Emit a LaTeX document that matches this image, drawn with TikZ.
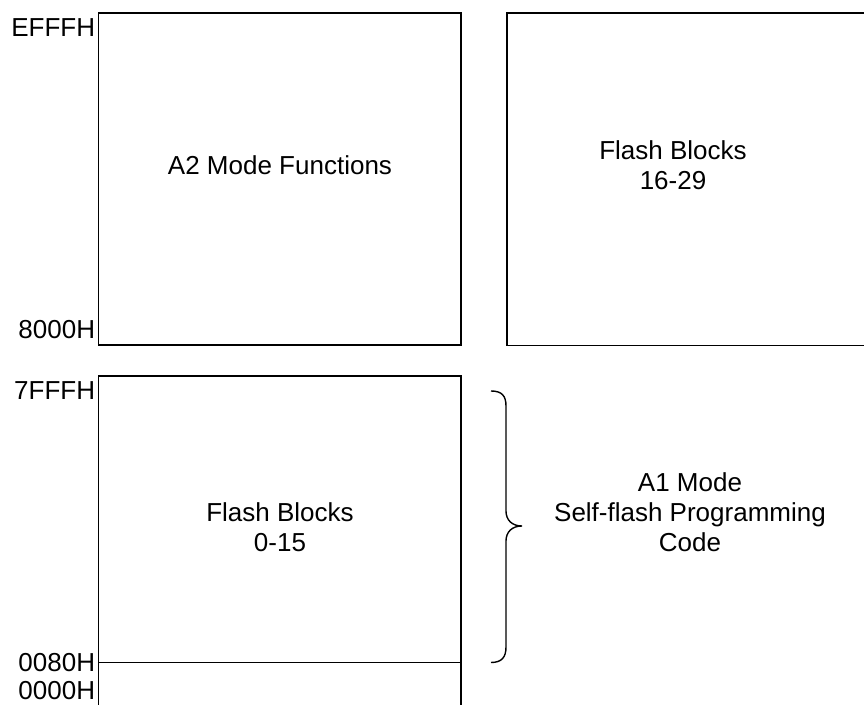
\documentclass[tikz,border=0pt]{standalone}
\usepackage{fontspec}
\setmainfont{Liberation Sans}
\begin{document}
\begin{tikzpicture}[x=0.5pt,y=-0.5pt,
  box/.style={draw=black,line width=0.7pt},
  lbl/.style={font=\fontsize{13}{15}\selectfont, inner sep=0pt, align=center},
  addr/.style={lbl, anchor=east}]
\useasboundingbox (0,0) rectangle (864,705);
\clip (0,0) rectangle (864,705);
% memory regions
\draw[box] (98.5,13) rectangle (461,345);
\draw[box] (507,13) rectangle (880,345.5);
\draw[box] (98.5,720) -- (98.5,376) -- (461,376) -- (461,720);
\draw[box] (98.5,662.5) -- (461,662.5);
% address labels
\node[addr] (efff) at (95.5,27.5) {EFFFH};
\node[addr] (h8000) at (95.5,330) {8000H};
\node[addr] (h7fff) at (95.5,391) {7FFFH};
\node[addr] (h0080) at (95.5,662.5) {0080H};
\node[addr] (h0000) at (95.5,691) {0000H};
% region texts
\node[lbl] (a2) at (280,165) {A2 Mode Functions};
\node[lbl] (fb1) at (673,165) {Flash Blocks\\16-29};
\node[lbl] (fb0) at (280,527) {Flash Blocks\\0-15};
\node[lbl] (a1) at (690,512) {A1 Mode\\Self-flash Programming\\Code};
% brace
\draw[line width=0.7pt] (491,391) .. controls (502,391) and (506,396) .. (506,406)
  -- (506,511) .. controls (506,520) and (512,526) .. (522,526)
  .. controls (512,526) and (506,532) .. (506,541)
  -- (506,647) .. controls (506,657) and (502,662.5) .. (491,662.5);
\end{tikzpicture}
\end{document}
